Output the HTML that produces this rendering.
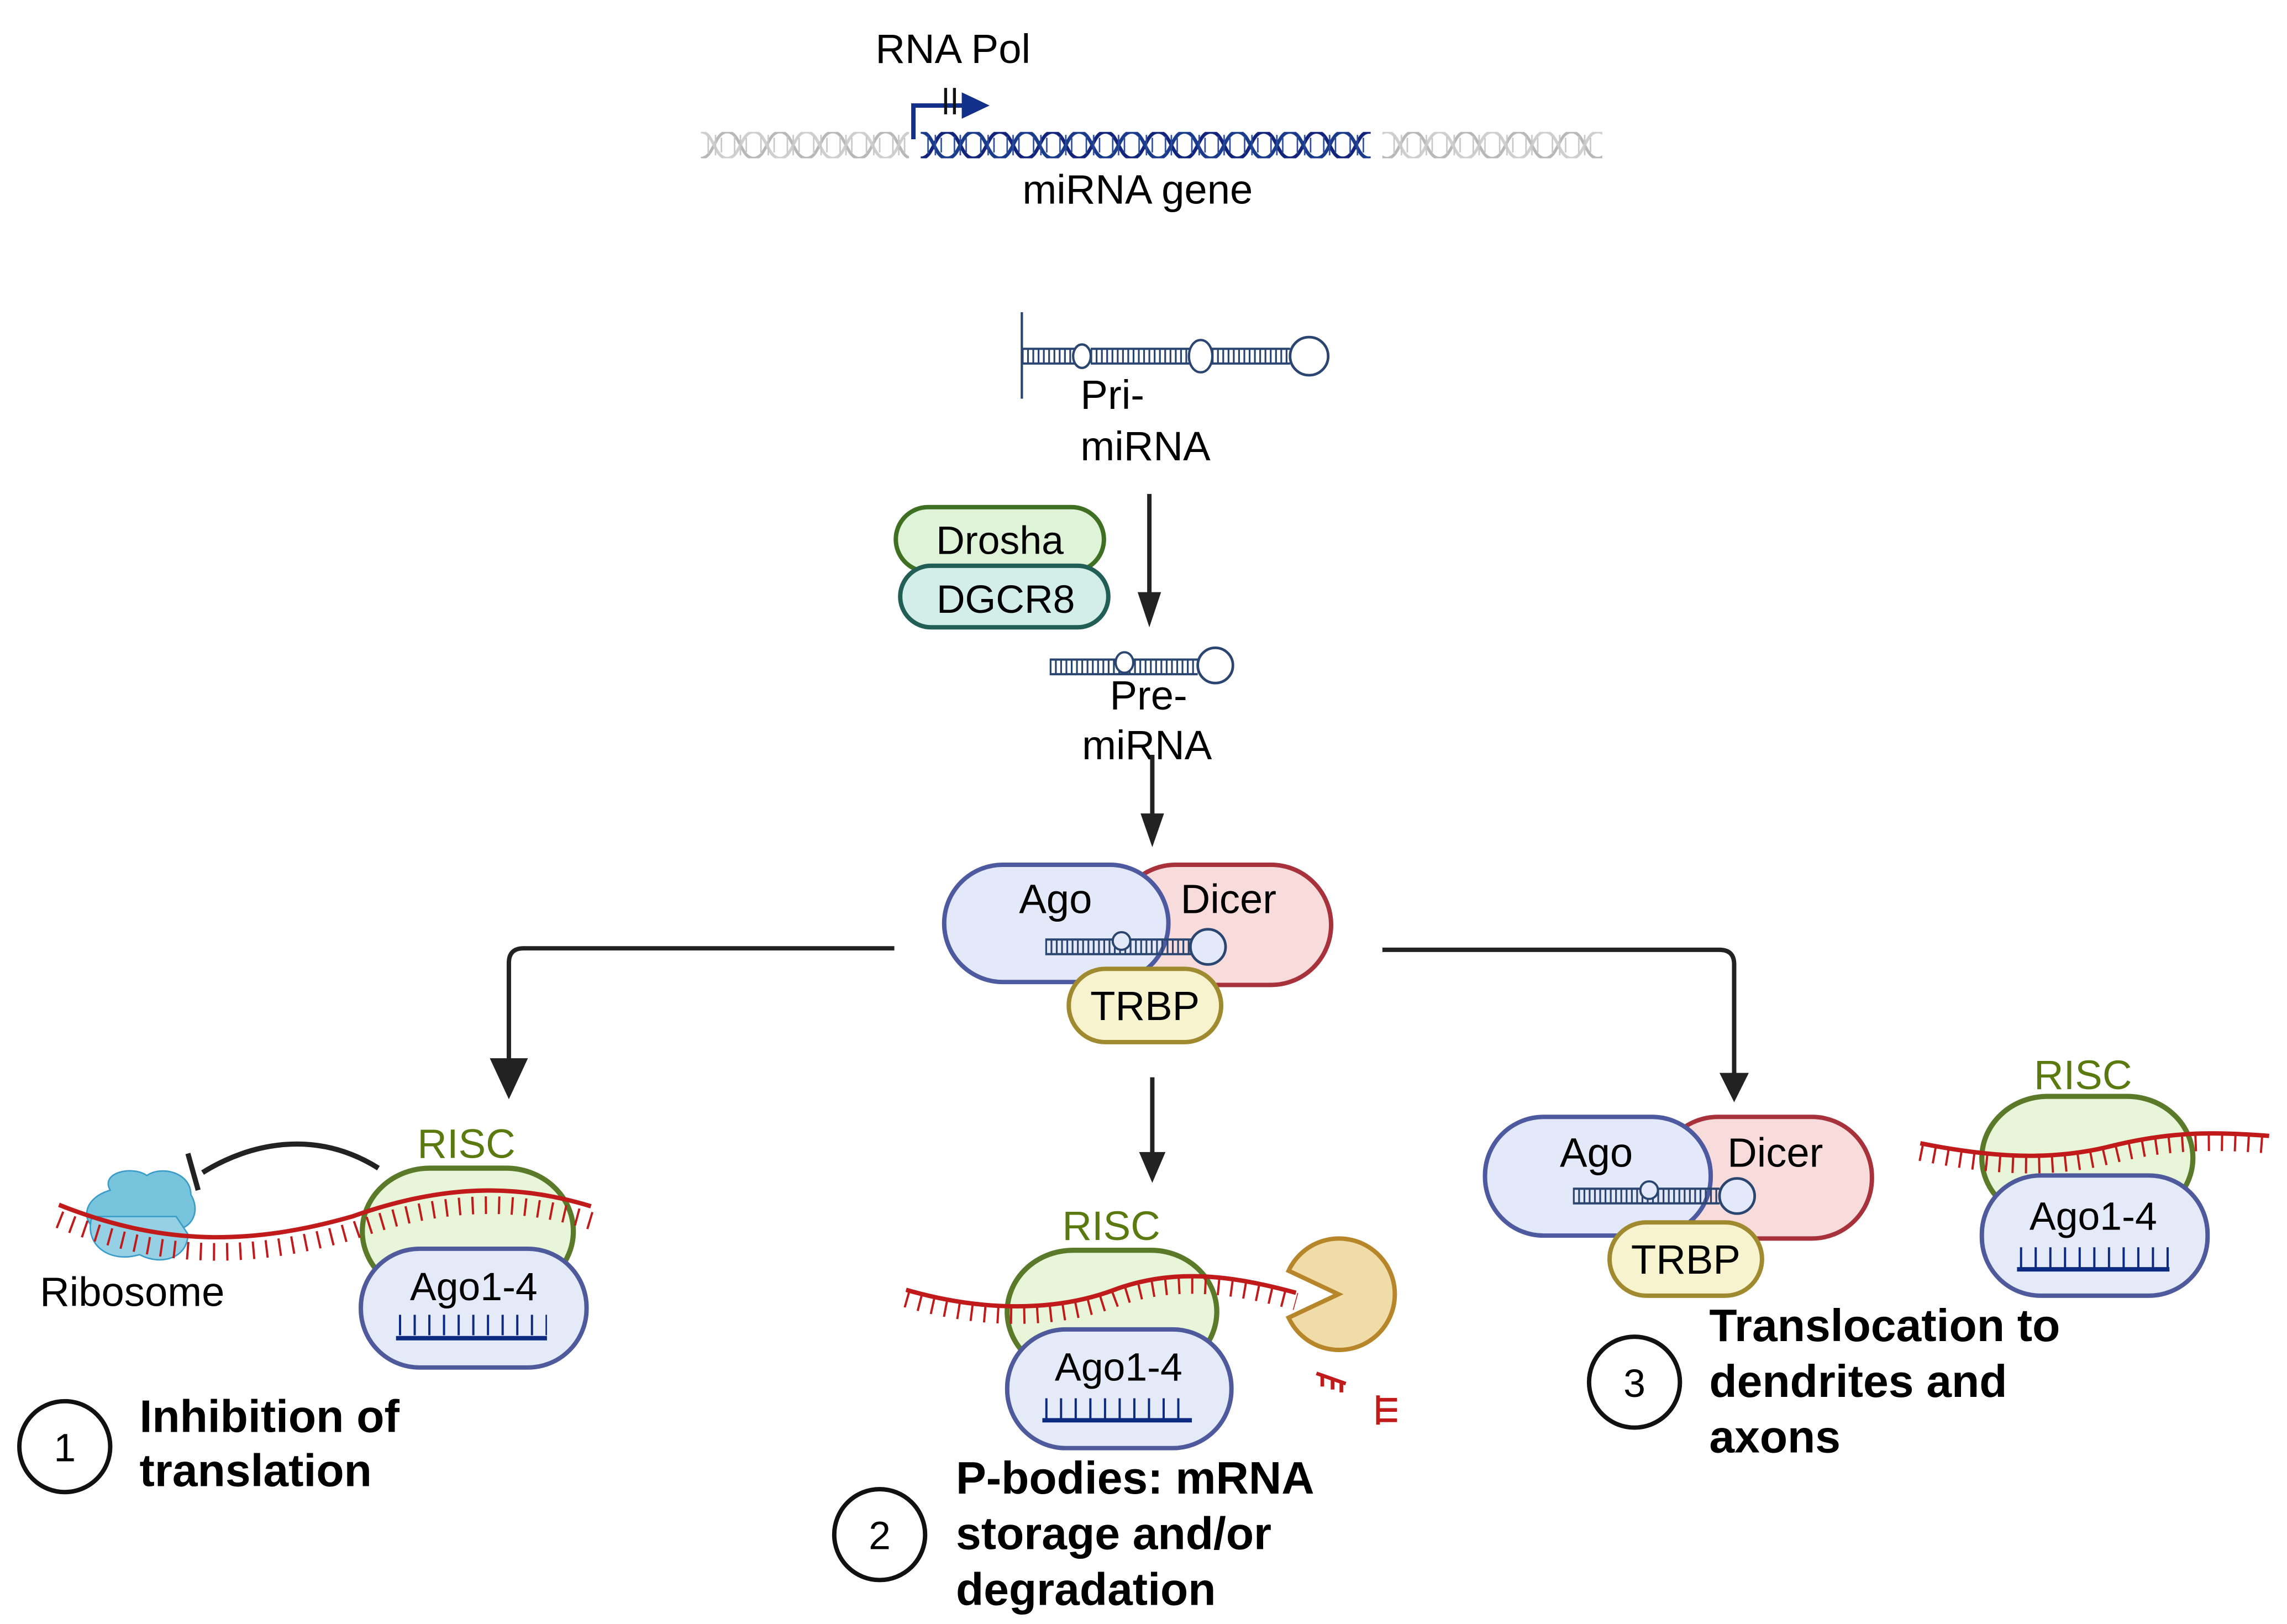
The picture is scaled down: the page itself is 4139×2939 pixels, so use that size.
<!DOCTYPE html>
<html><head><meta charset="utf-8"><style>
html,body{margin:0;padding:0;background:#fff;}
svg{display:block;}
text{font-family:"Liberation Sans",Arial,sans-serif;}
</style></head><body>
<svg width="4139" height="2939" viewBox="0 0 1560 1108" xmlns="http://www.w3.org/2000/svg">
<defs>
<pattern id="dnag" x="478" y="90" width="36" height="18" patternUnits="userSpaceOnUse">
<path d="M0,18 C9,18 9,0 18,0 C27,0 27,18 36,18" fill="none" stroke="#b8b8b8" stroke-width="2"/>
<path d="M0,0 C9,0 9,18 18,18 C27,18 27,0 36,0" fill="none" stroke="#cfcfcf" stroke-width="2"/>
<path d="M5,3V15M10,2V16M14,4V14M23,3V15M27,2V16M31,4V14" stroke="#c8c8c8" stroke-width="1"/>
</pattern>
<pattern id="dnab" x="628" y="90" width="36" height="18" patternUnits="userSpaceOnUse">
<path d="M0,18 C9,18 9,0 18,0 C27,0 27,18 36,18" fill="none" stroke="#12237a" stroke-width="2.4"/>
<path d="M0,0 C9,0 9,18 18,18 C27,18 27,0 36,0" fill="none" stroke="#1a3a8a" stroke-width="2.4"/>
<path d="M5,3V15M10,2V16M14,4V14M23,3V15M27,2V16M31,4V14" stroke="#2a4a9a" stroke-width="1"/>
</pattern>
</defs>

<text x="650" y="43" font-size="28" text-anchor="middle">RNA Pol</text>
<path d="M623,95V72H658" fill="none" stroke="#12308a" stroke-width="3"/>
<path d="M656,63L675,72L656,81Z" fill="#12308a"/>
<path d="M645,60V78M651,60V78" stroke="#111" stroke-width="2"/>
<rect x="478" y="90" width="142" height="18" fill="url(#dnag)"/>
<rect x="628" y="90" width="307" height="18" fill="url(#dnab)"/>
<rect x="943" y="90" width="150" height="18" fill="url(#dnag)"/>
<text x="776" y="139" font-size="28" text-anchor="middle">miRNA gene</text>

<g stroke="#2a4670" fill="none">
<path d="M697,213V272" stroke-width="1.6"/>
<path d="M697,238H733M744,238H812M826,238H880M697,248H733M744,248H812M826,248H880" stroke-width="1.5"/>
<path d="M697,243H880" stroke-width="9" stroke-dasharray="1.2 2.4"/>
<ellipse cx="738" cy="243" rx="6" ry="8" fill="#fff" stroke-width="1.6"/>
<ellipse cx="819" cy="243" rx="8" ry="11" fill="#fff" stroke-width="1.6"/>
<circle cx="893" cy="243" r="13" fill="#fff" stroke-width="1.8"/>
</g>
<text x="737" y="279" font-size="28">Pri-</text>
<text x="737" y="314" font-size="28">miRNA</text>

<path d="M784,337V412" stroke="#222" stroke-width="3"/>
<path d="M776,404L784,428L792,404Z" fill="#222"/>

<rect x="611" y="346" width="142" height="44" rx="22" fill="#dff3d8" stroke="#3f6f22" stroke-width="3"/>
<rect x="614" y="386" width="142" height="42" rx="21" fill="#d3ede8" stroke="#215e56" stroke-width="3"/>
<text x="682" y="378" font-size="27" text-anchor="middle">Drosha</text>
<text x="686" y="418" font-size="27" text-anchor="middle">DGCR8</text>

<g stroke="#2a4670" fill="none">
<path d="M716,450H762M773,450H817M716,460H817" stroke-width="1.5"/>
<path d="M716,455H817" stroke-width="9" stroke-dasharray="1.2 2.4"/>
<ellipse cx="767" cy="452" rx="6" ry="7" fill="#fff" stroke-width="1.5"/>
<circle cx="829" cy="454" r="12" fill="#fff" stroke-width="1.8"/>
</g>
<text x="757" y="484" font-size="28">Pre-</text>
<text x="738" y="518" font-size="28">miRNA</text>

<path d="M786,515V563" stroke="#222" stroke-width="3"/>
<path d="M778,555L786,578L794,555Z" fill="#222"/>

<rect x="761" y="590" width="147" height="82" rx="41" fill="#f8dcdc" stroke="#a8323c" stroke-width="3"/>
<rect x="644" y="590" width="153" height="80" rx="40" fill="#e3e9f8" stroke="#4d5aa0" stroke-width="3"/>
<text x="720" y="623" font-size="28" text-anchor="middle">Ago</text>
<text x="838" y="623" font-size="28" text-anchor="middle">Dicer</text>
<g stroke="#2a4670" fill="none">
<path d="M713,641H760M771,641H813M713,651H813" stroke-width="1.5"/>
<path d="M713,646H813" stroke-width="9" stroke-dasharray="1.2 2.4"/>
<ellipse cx="765" cy="642" rx="6" ry="6" fill="#e3e9f8" stroke-width="1.5"/>
<circle cx="824" cy="646" r="12" fill="#e3e9f8" stroke-width="1.8"/>
</g>
<rect x="729" y="661" width="104" height="50" rx="25" fill="#f7f3cf" stroke="#a08a2f" stroke-width="3"/>
<text x="781" y="696" font-size="28" text-anchor="middle">TRBP</text>

<path d="M610,647H357Q347,647 347,657V725" fill="none" stroke="#222" stroke-width="3"/>
<path d="M334,722L347,750L360,722Z" fill="#222"/>
<path d="M943,648H1173Q1183,648 1183,658V735" fill="none" stroke="#222" stroke-width="3"/>
<path d="M1173,732L1183,752L1193,732Z" fill="#222"/>
<path d="M786,735V792" stroke="#222" stroke-width="3"/>
<path d="M777,786L786,807L795,786Z" fill="#222"/>

<!-- panel 1 -->
<path d="M75,812 C68,800 90,795 100,802 C110,795 130,800 130,815 C136,825 132,835 124,838 L68,840 C55,835 55,818 75,812Z" fill="#78c4dc" stroke="#3a9cc8" stroke-width="1"/>
<path d="M62,832 C58,850 75,862 95,856 C110,864 128,858 128,842 L120,830 L65,830Z" fill="#96d0e4" stroke="#3a9cc8" stroke-width="1"/>
<text x="318" y="790" font-size="28" text-anchor="middle" fill="#5a7a10">RISC</text>
<path d="M258,797 C215,770 170,780 138,800" fill="none" stroke="#222" stroke-width="3.5"/>
<path d="M128,787L135,812" stroke="#222" stroke-width="3.5"/>
<rect x="247" y="797" width="144" height="86" rx="46" fill="#e8f5d8" stroke="#5a7a2a" stroke-width="3.5"/>
<path d="M40,822 C110,850 170,850 240,830 C310,805 360,810 403,823" fill="none" stroke="#c01a1a" stroke-width="3"/>
<path d="M40,826 C110,854 170,854 240,834 C310,809 360,814 403,827" fill="none" stroke="#c01a1a" stroke-width="12" stroke-dasharray="1.5 7.5" transform="translate(0,6)"/>
<rect x="246" y="852" width="154" height="81" rx="40" fill="#e4eaf8" stroke="#4f5a9c" stroke-width="3"/>
<text x="323" y="887" font-size="27" text-anchor="middle">Ago1-4</text>
<path d="M270,913H373" stroke="#0b2a80" stroke-width="3"/>
<path d="M272,904H373" stroke="#0b2a80" stroke-width="14" stroke-dasharray="1.5 8.5"/>
<text x="90" y="891" font-size="28" text-anchor="middle">Ribosome</text>
<circle cx="44" cy="987" r="31" fill="#fff" stroke="#111" stroke-width="3"/>
<text x="44" y="997" font-size="27" text-anchor="middle">1</text>
<text x="95" y="977" font-size="31" font-weight="bold">Inhibition of</text>
<text x="95" y="1014" font-size="31" font-weight="bold">translation</text>

<!-- panel 2 -->
<text x="758" y="846" font-size="28" text-anchor="middle" fill="#5a7a10">RISC</text>
<rect x="687" y="853" width="143" height="84" rx="45" fill="#e8f5d8" stroke="#5a7a2a" stroke-width="3.5"/>
<path d="M618,880 C670,895 720,895 760,880 C800,865 840,870 884,882" fill="none" stroke="#c01a1a" stroke-width="3"/>
<path d="M618,886 C670,901 720,901 760,886 C800,871 840,876 884,888" fill="none" stroke="#c01a1a" stroke-width="12" stroke-dasharray="1.5 7.5"/>
<rect x="687" y="907" width="153" height="81" rx="40" fill="#e4eaf8" stroke="#4f5a9c" stroke-width="3"/>
<text x="763" y="942" font-size="27" text-anchor="middle">Ago1-4</text>
<path d="M711,969H813" stroke="#0b2a80" stroke-width="3"/>
<path d="M713,961H813" stroke="#0b2a80" stroke-width="14" stroke-dasharray="1.5 8.5"/>
<path d="M913,883 L879,867 A38,38 0 1 1 879,899 Z" fill="#f0dca8" stroke="#b8862a" stroke-width="3"/>
<path d="M898,937L918,944M902,938V946M909,940V948M915,942V950" stroke="#c01a1a" stroke-width="2.5"/>
<path d="M940,952V972M940,955H953M940,962H953M940,969H953" stroke="#c01a1a" stroke-width="2.5"/>
<circle cx="600" cy="1047" r="31" fill="#fff" stroke="#111" stroke-width="3"/>
<text x="600" y="1057" font-size="27" text-anchor="middle">2</text>
<text x="652" y="1019" font-size="31" font-weight="bold">P-bodies: mRNA</text>
<text x="652" y="1057" font-size="31" font-weight="bold">storage and/or</text>
<text x="652" y="1095" font-size="31" font-weight="bold">degradation</text>

<!-- panel 3 -->
<rect x="1131" y="762" width="146" height="83" rx="41" fill="#f8dcdc" stroke="#a8323c" stroke-width="3"/>
<rect x="1013" y="762" width="154" height="81" rx="40" fill="#e3e9f8" stroke="#4d5aa0" stroke-width="3"/>
<text x="1089" y="796" font-size="28" text-anchor="middle">Ago</text>
<text x="1211" y="796" font-size="28" text-anchor="middle">Dicer</text>
<g stroke="#2a4670" fill="none">
<path d="M1073,811H1120M1131,811H1173M1073,821H1173" stroke-width="1.5"/>
<path d="M1073,816H1173" stroke-width="9" stroke-dasharray="1.2 2.4"/>
<ellipse cx="1125" cy="812" rx="6" ry="6" fill="#e3e9f8" stroke-width="1.5"/>
<circle cx="1185" cy="816" r="12" fill="#e3e9f8" stroke-width="1.8"/>
</g>
<rect x="1098" y="834" width="104" height="50" rx="25" fill="#f7f3cf" stroke="#a08a2f" stroke-width="3"/>
<text x="1150" y="869" font-size="28" text-anchor="middle">TRBP</text>
<text x="1421" y="743" font-size="28" text-anchor="middle" fill="#5a7a10">RISC</text>
<rect x="1352" y="748" width="144" height="84" rx="45" fill="#e8f5d8" stroke="#5a7a2a" stroke-width="3.5"/>
<path d="M1310,780 C1360,790 1400,792 1440,782 C1480,772 1510,772 1548,775" fill="none" stroke="#c01a1a" stroke-width="3"/>
<path d="M1310,786 C1360,796 1400,798 1440,788 C1480,778 1510,778 1548,781" fill="none" stroke="#c01a1a" stroke-width="12" stroke-dasharray="1.5 7.5"/>
<rect x="1352" y="802" width="154" height="82" rx="40" fill="#e4eaf8" stroke="#4f5a9c" stroke-width="3"/>
<text x="1428" y="839" font-size="27" text-anchor="middle">Ago1-4</text>
<path d="M1376,866H1480" stroke="#0b2a80" stroke-width="3"/>
<path d="M1378,858H1480" stroke="#0b2a80" stroke-width="14" stroke-dasharray="1.5 8.5"/>
<circle cx="1115" cy="943" r="31" fill="#fff" stroke="#111" stroke-width="3"/>
<text x="1115" y="953" font-size="27" text-anchor="middle">3</text>
<text x="1166" y="915" font-size="31" font-weight="bold">Translocation to</text>
<text x="1166" y="953" font-size="31" font-weight="bold">dendrites and</text>
<text x="1166" y="991" font-size="31" font-weight="bold">axons</text>
</svg>
</body></html>
